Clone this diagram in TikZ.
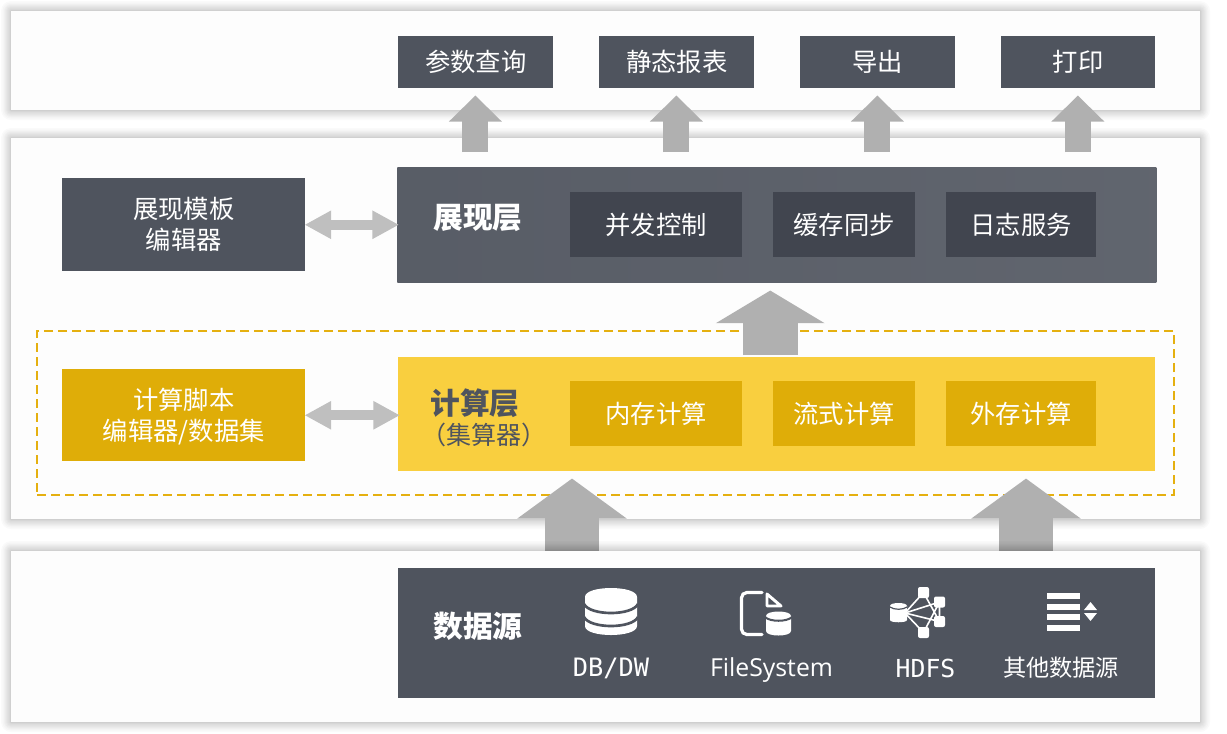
\documentclass[tikz,border=0pt]{standalone}
\usepackage{fontspec}
\usetikzlibrary{arrows.meta}
\setmainfont{Noto Sans CJK SC}
\newfontfamily\latinfont{Open Sans}
\newfontfamily\codefont{DejaVu Sans Mono}

\definecolor{slate}{RGB}{79,84,94}
\definecolor{slatedark}{RGB}{65,69,79}
\definecolor{gold}{RGB}{223,173,8}
\definecolor{goldlight}{RGB}{249,207,63}
\definecolor{dashgold}{RGB}{229,176,16}
\definecolor{paper}{RGB}{253,253,253}

\pgfdeclarelayer{panellayer}
\pgfdeclarelayer{feedlayer}
\pgfsetlayers{panellayer,feedlayer,main}

\tikzset{
  boxsize/.style 2 args={minimum width=#1*0.75pt,minimum height=#2*0.75pt,inner sep=0pt,anchor=north west},
  panel/.style={fill=paper},
  darkbox/.style={fill=slate,text=white,align=center,font=\fontsize{19pt}{23.25pt}\selectfont},
  innerdark/.style={darkbox,fill=slatedark},
  goldbox/.style={darkbox,fill=gold},
  title/.style={inner sep=0pt,font=\fontsize{22.3pt}{26pt}\selectfont\bfseries},
  uparrow/.style={color=black!31,line width=19.5pt,-{Triangle[length=19.5pt,width=38.5pt]}},
  bigarrow/.style={color=black!31,line width=41pt,-{Triangle[length=#1,width=80.5pt]}},
  linkarrow/.style={color=black!25,line width=7.5pt,{Triangle[length=20pt,width=20pt]}-{Triangle[length=20pt,width=20pt]},shorten <=-0.75pt,shorten >=-1.5pt},
  caption/.style={inner sep=0pt,text=white,font=\fontsize{18pt}{22pt}\selectfont}
}

\newcommand{\panelbox}[5]{%
  \foreach \r in {0.5,1,1.5,2,3,4,5,6,7,8.5,10}{\fill[black,opacity=0.02,rounded corners=\r*0.75pt] (#2-\r,#3-\r) rectangle (#2+#4+\r,#3+#5+\r);}
  \draw (#2,#3) node (#1) [panel,boxsize={#4}{#5}] {};
}

\begin{document}
\begin{tikzpicture}[x=0.75pt,y=0.75pt,yscale=-1,xscale=1]
\useasboundingbox (0,0) rectangle (1227,733);

%Shape: Panels
\begin{pgfonlayer}{panellayer}
\panelbox{outpanel}{11}{11}{1189}{99}
\panelbox{midpanel}{11}{138}{1189}{381}
%Shape: Dashed frame
\draw (36,330) node (calcframe) [boxsize={1137}{164},draw=dashgold,line width=1.5pt,dash pattern=on 6.4pt off 4.1pt] {};
\end{pgfonlayer}
\panelbox{srcpanel}{11}{551}{1189}{171}

%Shape: Output row
\draw (398,36) node (query) [darkbox,boxsize={155}{52}] {参数查询};
\draw (599,36) node (report) [darkbox,boxsize={155}{52}] {静态报表};
\draw (800,36) node (export) [darkbox,boxsize={155}{52}] {导出};
\draw (1001,36) node (print) [darkbox,boxsize={154}{52}] {打印};

%Shape: Presentation layer
\draw (62,178) node (viewedit) [darkbox,boxsize={243}{93}] {展现模板\\编辑器};
\draw (397,167) node (view) [boxsize={759}{115},left color=slate!95!white,right color=slate!90!white] {};
\draw (478,218) node (viewtitle) [title,text=white] {展现层};
\draw (570,192) node (concurrent) [innerdark,boxsize={172}{65}] {并发控制};
\draw (773,192) node (cachesync) [innerdark,boxsize={142}{65}] {缓存同步};
\draw (946,192) node (logging) [innerdark,boxsize={150}{65}] {日志服务};

%Shape: Computing layer
\draw (62,369) node (calcedit) [goldbox,boxsize={243}{92}] {计算脚本\\编辑器\smash{/}数据集};
\draw (398,357) node (calc) [boxsize={757}{114},fill=goldlight] {};
\draw (475,403) node (calctitle) [title,text=slate] {计算层};
\draw (484,435) node (calcsub) [inner sep=0pt,text=slate,font=\fontsize{18.8pt}{22pt}\selectfont] {（集算器）};
\draw (570,381) node (inmemory) [goldbox,boxsize={172}{65}] {内存计算};
\draw (773,381) node (stream) [goldbox,boxsize={142}{65}] {流式计算};
\draw (946,381) node (external) [goldbox,boxsize={150}{65}] {外存计算};

%Shape: Data source row
\draw (398,568) node (source) [boxsize={757}{130},fill=slate] {};
\draw (478,626) node (sourcetitle) [title,text=white] {数据源};
\draw (611,668) node (dbcap) [caption,font=\fontsize{19pt}{22pt}\selectfont] {\codefont DB/DW};
\draw (771.5,670) node (filecap) [caption,font=\fontsize{18.6pt}{22pt}\selectfont] {\latinfont FileSystem};
\draw (925.5,668) node (hdfscap) [caption,font=\fontsize{18.6pt}{22pt}\selectfont] {\codefont HDFS};
\draw (1061,668) node (othercap) [caption,font=\fontsize{17.4pt}{22pt}\selectfont] {其他数据源};

%Straight Lines: arrows
\foreach \target in {query,report,export,print}{
  \draw [uparrow,shorten <=11.25pt,shorten >=5.25pt] ([xshift=-0.3pt]\target.south |- view.north) -- ([xshift=-0.3pt]\target.south);
}
\draw [bigarrow=24.5pt,shorten <=1.5pt,shorten >=6pt] ([xshift=-4.9pt]calc.north) -- ([xshift=-4.9pt]view.south);
\draw [linkarrow] (viewedit.east) -- (view.west);
\draw [linkarrow] (calcedit.east) -- (calcedit.east -| calc.west);
\begin{pgfonlayer}{feedlayer}
\coordinate (feedleft) at (572,568);
\coordinate (feedright) at (1026,568);
\draw [bigarrow=30pt,shorten >=5.25pt] (feedleft) -- (feedleft |- calc.south);
\draw [bigarrow=30pt,shorten >=5.25pt] (feedright) -- (feedright |- calc.south);
\end{pgfonlayer}

%Shape: Database icon
\fill [white] (585,597) .. controls (585,585) and (637,585) .. (637,597) -- (637,626) .. controls (637,638) and (585,638) .. (585,626) -- cycle ;
\draw [slate,line width=2pt] (584,604) .. controls (590,616) and (632,616) .. (638,604) ;
\draw [slate,line width=2pt] (584,617) .. controls (590,629) and (632,629) .. (638,617) ;

%Shape: File icon
\draw [white,line width=2.4pt,line cap=round,rounded corners=4pt] (762,592.5) -- (741.5,592.5) -- (741.5,634.5) -- (762,634.5) ;
\draw [white,line width=2.2pt,line join=round] (767,594) -- (767,606) -- (781,606) -- cycle ;
\fill [white] (766,616) .. controls (766,610) and (791,610) .. (791,616) -- (791,631) .. controls (791,637) and (766,637) .. (766,631) -- cycle ;
\draw [slate,line width=1.5pt] (765,617) .. controls (770,622) and (787,622) .. (792,617) ;

%Shape: HDFS icon
\coordinate (hub) at (905,613);
\foreach \nx/\ny in {923.5/592.5,939.5/602,939.5/621.5,923.5/632.5}{
  \draw [white,line width=1.2pt] (hub) -- (\nx,\ny) ;
  \fill [white,rounded corners=1.5pt] (\nx-5.5,\ny-5.5) rectangle (\nx+5.5,\ny+5.5) ;
}
\draw [white,line width=1.2pt] (923.5,592.5) -- (939.5,621.5) (923.5,632.5) -- (939.5,602) (939.5,602) -- (939.5,621.5) ;
\fill [white] (890,606) .. controls (890,602) and (907,602) .. (907,606) -- (907,620) .. controls (907,623) and (890,623) .. (890,620) -- cycle ;
\draw [slate,line width=0.9pt] (890,607) .. controls (894,610) and (903,610) .. (907,607) ;

%Shape: Other sources icon
\foreach \ly in {593,604,614,625}{
  \fill [white] (1047,\ly) rectangle (1080,\ly+5.5) ;
}
\fill [white] (1090.5,602) -- (1097,610) -- (1084,610) -- cycle ;
\fill [white] (1090.5,621) -- (1097,613) -- (1084,613) -- cycle ;

\end{tikzpicture}
\end{document}
